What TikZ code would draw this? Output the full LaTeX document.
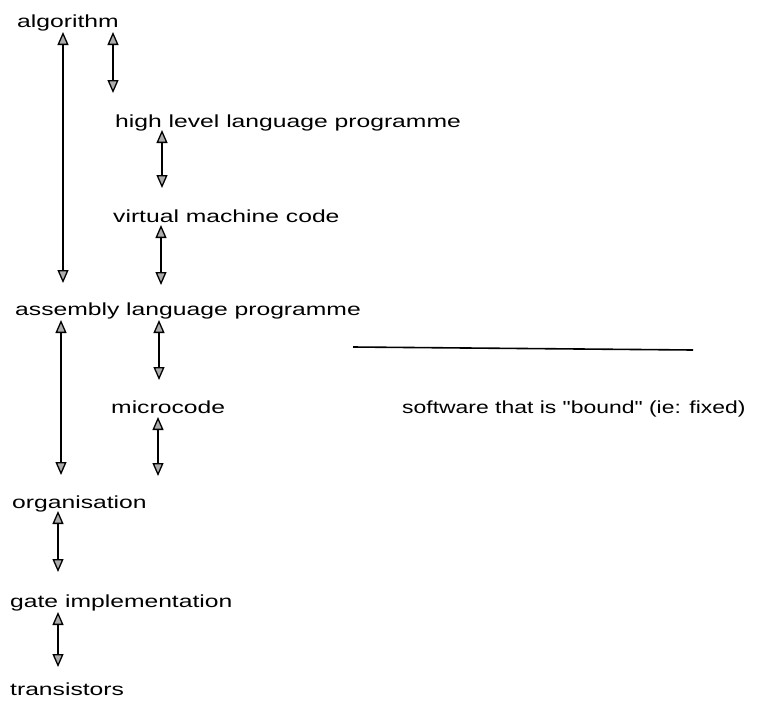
\documentclass[tikz,border=0pt]{standalone}
\usepackage{fontspec}
\setmainfont{Liberation Sans}
\usetikzlibrary{arrows.meta}
\newcommand\widetext[2][1.41]{\scalebox{#1}[1]{#2}}
\begin{document}
\begin{tikzpicture}[x=1pt,y=-1pt,
  lvl/.style={anchor=base west,inner sep=0pt,font=\fontsize{17.5}{21}\selectfont},
  link/.style={line width=1.4pt,{Triangle[length=13pt,width=11pt,fill=gray!65,line width=1.3pt]}-{Triangle[length=13pt,width=11pt,fill=gray!65,line width=1.3pt]}},
  rule/.style={line width=1.6pt}]
\useasboundingbox (0,0) rectangle (765,707);

% levels of description
\node[lvl] (alg)   at (17,27)  {\widetext{algorithm}};
\node[lvl] (hll)   at (115,127) {\widetext{high level language programme}};
\node[lvl] (vmc)   at (113,222) {\widetext{virtual machine code}};
\node[lvl] (asm)   at (15,315)  {\widetext{assembly language programme}};
\node[lvl] (mc)    at (111,413) {\widetext{microcode}};
\node[lvl] (bound) at (402,413) {\widetext[1.31]{software that is \textquotedbl bound\textquotedbl\ (ie: fixed)}};
\node[lvl] (org)   at (12,508)  {\widetext{organisation}};
\node[lvl] (gate)  at (10,607)  {\widetext{gate implementation}};
\node[lvl] (tr)    at (10,695)  {\widetext{transistors}};

% two-way links between levels
\draw[link] ([shift={(46,5)}]alg.base west) -- ([shift={(48,-32)}]asm.base west);
\draw[link] ([shift={(96,5)}]alg.base west) -- ([shift={(-2,-34)}]hll.base west);
\draw[link] ([shift={(47,3)}]hll.base west) -- ([shift={(49,-34)}]vmc.base west);
\draw[link] ([shift={(48,3)}]vmc.base west) -- ([shift={(146,-30)}]asm.base west);
\draw[link] ([shift={(46,5)}]asm.base west) -- ([shift={(49,-33)}]org.base west);
\draw[link] ([shift={(144,5)}]asm.base west) -- ([shift={(48,-33)}]mc.base west);
\coordinate (mcend) at (158,476);
\draw[link] ([shift={(47,4)}]mc.base west) -- (mcend);
\draw[link] ([shift={(46,3)}]org.base west) -- ([shift={(48,-35)}]gate.base west);
\draw[link] ([shift={(48,5)}]gate.base west) -- ([shift={(48,-28)}]tr.base west);

% divider beside the bound software
\coordinate (ruleA) at (353,347);
\coordinate (ruleB) at (693,350);
\draw[rule] (ruleA) -- (ruleB);
\end{tikzpicture}
\end{document}
